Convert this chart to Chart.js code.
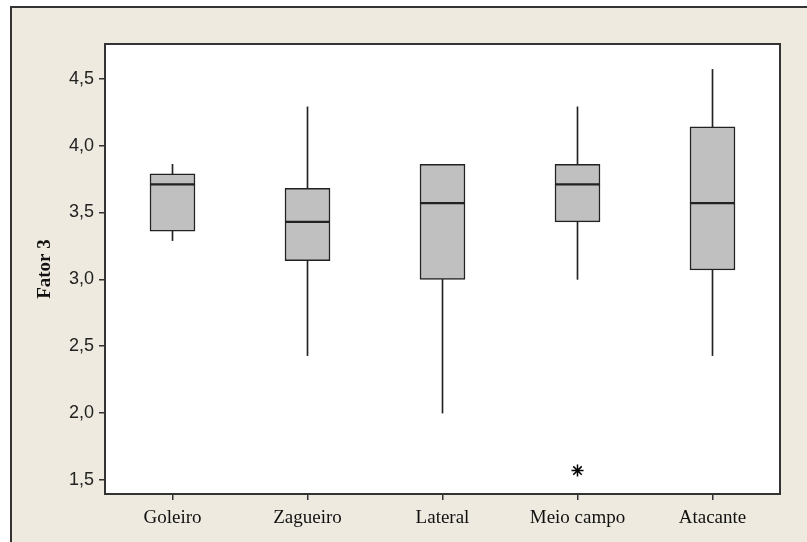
<!DOCTYPE html>
<html>
<head>
<meta charset="utf-8">
<script src="https://cdn.jsdelivr.net/npm/chart.js@4/dist/chart.umd.min.js"></script>
<style>
  html, body { margin: 0; padding: 0; background: #fff; }
  #wrap { width: 807px; height: 542px; }
</style>
</head>
<body>
<div id="wrap"><canvas id="boxChart" width="807" height="542"></canvas></div>
<script>
// Box plot data (Fator 3 by position)
const categories = ['Goleiro', 'Zagueiro', 'Lateral', 'Meio campo', 'Atacante'];
const minVals    = [3.29, 2.43, 2.00, 3.00, 2.43];
const q1Vals     = [3.36, 3.14, 3.00, 3.43, 3.07];
const medianVals = [3.71, 3.43, 3.57, 3.71, 3.57];
const q3Vals     = [3.79, 3.68, 3.86, 3.86, 4.14];
const maxVals    = [3.86, 4.29, 3.86, 4.29, 4.57];
const outliers   = [null, null, null, 1.57, null];
const yTicks     = [1.5, 2.0, 2.5, 3.0, 3.5, 4.0, 4.5];

const BOX_FILL = '#c0c0c0';
const INK = '#222';

// background, outer frame and plot border
const framePlugin = {
    id: 'frame',
    beforeDraw(chart) {
        const ctx = chart.ctx;
        const a = chart.chartArea;
        ctx.save();
        ctx.fillStyle = '#ffffff';
        ctx.fillRect(0, 0, chart.width, chart.height);
        ctx.fillStyle = '#eeeae0';
        ctx.fillRect(11, 7, chart.width - 11, chart.height - 7);
        ctx.strokeStyle = '#333';
        ctx.lineWidth = 2;
        ctx.beginPath();
        ctx.moveTo(11, chart.height);
        ctx.lineTo(11, 7);
        ctx.lineTo(chart.width, 7);
        ctx.stroke();
        ctx.fillStyle = '#ffffff';
        ctx.fillRect(a.left, a.top, a.right - a.left, a.bottom - a.top);
        ctx.restore();
    },
    afterDraw(chart) {
        const ctx = chart.ctx;
        const a = chart.chartArea;
        ctx.save();
        ctx.strokeStyle = '#333';
        ctx.lineWidth = 2;
        ctx.strokeRect(a.left, a.top, a.right - a.left, a.bottom - a.top);
        ctx.restore();
    }
};

const boxCommon = {
    type: 'bar',
    grouped: false,
    barThickness: 45,
    backgroundColor: BOX_FILL,
    borderColor: INK,
    borderWidth: 1.5,
    borderSkipped: false,
    order: 1
};

const whiskerCommon = {
    type: 'bar',
    grouped: false,
    barThickness: 1,
    backgroundColor: INK,
    borderWidth: 0,
    order: 2
};

new Chart(document.getElementById('boxChart'), {
    type: 'bar',
    data: {
        labels: categories,
        datasets: [
            Object.assign({ label: 'lower whisker', data: categories.map((c, i) => [minVals[i], q1Vals[i]]) }, whiskerCommon),
            Object.assign({ label: 'upper whisker', data: categories.map((c, i) => [q3Vals[i], maxVals[i]]) }, whiskerCommon),
            Object.assign({ label: 'lower box', data: categories.map((c, i) => [q1Vals[i], medianVals[i]]) }, boxCommon),
            Object.assign({ label: 'upper box', data: categories.map((c, i) => [medianVals[i], q3Vals[i]]) }, boxCommon),
            {
                type: 'line',
                label: 'outlier',
                data: outliers,
                showLine: false,
                pointStyle: 'star',
                pointRadius: 6,
                borderColor: '#000',
                backgroundColor: '#000',
                pointBorderWidth: 1.5,
                order: 0
            }
        ]
    },
    options: {
        responsive: false,
        animation: false,
        layout: { padding: { top: 44, right: 27, bottom: 0, left: 0 } },
        plugins: {
            legend: { display: false },
            tooltip: { enabled: false }
        },
        scales: {
            x: {
                type: 'category',
                offset: true,
                afterFit: (scale) => { scale.height = 48; },
                grid: {
                    display: true,
                    drawOnChartArea: false,
                    drawTicks: true,
                    tickLength: 6,
                    color: '#333',
                    lineWidth: 1.5,
                    offset: false
                },
                border: { display: false },
                ticks: {
                    color: '#111',
                    padding: 7,
                    maxRotation: 0,
                    font: { family: '"Liberation Serif", "Times New Roman", serif', size: 19 }
                }
            },
            y: {
                type: 'linear',
                min: 1.395,
                max: 4.76,
                afterFit: (scale) => { scale.width = 105; },
                afterBuildTicks: (scale) => { scale.ticks = yTicks.map(v => ({ value: v })); },
                grid: {
                    display: true,
                    drawOnChartArea: false,
                    drawTicks: true,
                    tickLength: 6,
                    color: '#333',
                    lineWidth: 1.5
                },
                border: { display: false },
                ticks: {
                    color: '#222',
                    padding: 5,
                    font: { family: '"Liberation Sans", Arial, sans-serif', size: 18 },
                    callback: (value) => value.toFixed(1).replace('.', ',')
                },
                title: {
                    display: true,
                    text: 'Fator 3',
                    color: '#111',
                    padding: { top: 34, bottom: 0 },
                    font: { family: '"Liberation Serif", "Times New Roman", serif', size: 19, weight: 'bold' }
                }
            }
        }
    },
    plugins: [framePlugin]
});
</script>
</body>
</html>
